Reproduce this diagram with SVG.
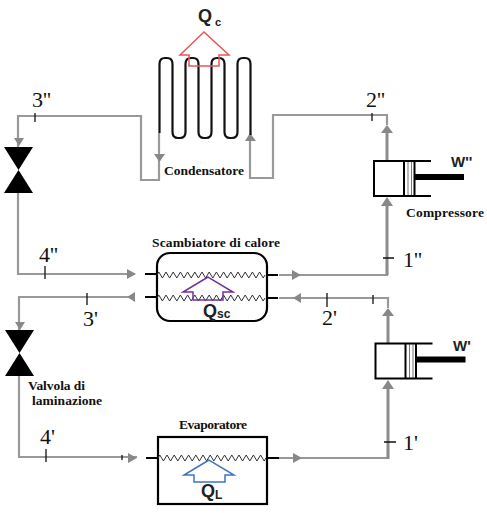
<svg xmlns="http://www.w3.org/2000/svg" width="487" height="513" viewBox="0 0 487 513">
<style>
.pipe{fill:none;stroke:#999;stroke-width:2.2}
.riser{fill:none;stroke:#8c8c8c;stroke-width:3}
.head{fill:#888;stroke:none}
.tick{fill:none;stroke:#111;stroke-width:1.3}
.blk{fill:none;stroke:#000;stroke-width:2.2}
.zig{fill:none;stroke:#333;stroke-width:1}
.lab{font-family:"Liberation Serif",serif;font-weight:bold;font-size:13.5px;fill:#111}
.num{font-family:"Liberation Serif",serif;font-size:22px;fill:#111}
.q{font-family:"Liberation Sans",sans-serif;font-weight:bold;fill:#222}
</style>
<defs>
<path id="zz" d="M0 0l1.800 -3l3.600 6l3.600 -6l3.600 6l3.600 -6l3.600 6l3.600 -6l3.600 6l3.600 -6l3.600 6l3.600 -6l3.600 6l3.600 -6l3.600 6l3.600 -6l3.600 6l3.600 -6l3.600 6l3.600 -6l3.600 6l3.600 -6l3.600 6l3.600 -6l3.600 6l3.600 -6l3.600 6l3.600 -6l3.600 6l3.600 -6l3.600 6l1.800 -3" class="zig"/>
<g id="comp">
<path d="M408 161V196M411.500 161V196" stroke="#777" stroke-width="1" fill="none"/>
<path d="M431 161H374V196H431M404 161V196M414.500 161V196" fill="none" stroke="#000" stroke-width="2"/>
<rect x="415" y="174" width="49" height="6" fill="#000"/>
</g>
<path id="valve" d="M0 0H29L0 46H29Z" fill="#000"/>
</defs>
<g id="connectors">
<path class="pipe" d="M159 133V180H141V116H18V147"/>
<path class="pipe" d="M250 135V178H273V115H387V125"/>
<path class="pipe" d="M18 193V274H135"/>
<path class="pipe" d="M279 275H387V260"/>
<path class="pipe" d="M135 297H19V330"/>
<path class="pipe" d="M279 298H388V308"/>
<path class="pipe" d="M19 376V457H137"/>
<path class="pipe" d="M279 458H388V445"/>
<path class="riser" d="M387 130V160M387 204V275M388 313V343M388 387V459"/>
<path class="head" d="M154 154H165L159.500 162Z"/>
<path class="head" d="M245 141H256L250 133Z"/>
<path class="head" d="M381 133H393L387 125Z"/>
<path class="head" d="M381 206H393L387 197Z"/>
<path class="head" d="M382 316H394L388 308Z"/>
<path class="head" d="M382 389H394L388 380Z"/>
<path class="head" d="M14 138H24L19 146Z"/>
<path class="head" d="M15 322H25L20 330Z"/>
<path class="head" d="M127 269V279L136 274Z"/>
<path class="head" d="M135 292V302L127 297Z"/>
<path class="head" d="M292 270V280L301 275Z"/>
<path class="head" d="M301 293V303L293 298Z"/>
<path class="head" d="M128 453V463L137 458Z"/>
<path class="head" d="M293 453V463L302 458Z"/>
<path class="tick" d="M35 113V122M372 113V121M383 258H394M45 266V279M87 293V305M327 293V307M373 295V304M384 442H396M46 449V462M122 455V460"/>
<path class="blk" d="M145 274H157M267 275H278M145 297H157M267 298H278M146 458H158M267 458H279"/>
</g>
<g id="condensatore">
<path d="M159.500 133V64Q159.500 58 165 58H167Q172.500 58 172.500 64V132Q172.500 138 178 138H180Q185.500 138 185.500 132V64Q185.500 58 191 58H193Q198.500 58 198.500 64V132Q198.500 138 204 138H206Q211.500 138 211.500 132V64Q211.500 58 217 58H219Q224.500 58 224.500 64V132Q224.500 138 230 138H232Q237.500 138 237.500 132V64Q237.500 58 243 58H245Q250.500 58 250.500 64V135" fill="none" stroke="#111" stroke-width="2.200"/>
<path d="M204 32L180 55H189V66H219V55H229Z" fill="none" stroke="#e8545a" stroke-width="1.500"/>
<text class="q" x="198" y="22" font-size="18">Q</text>
<text class="q" x="215" y="26" font-size="11">c</text>
<text class="lab" x="164" y="175" textLength="80">Condensatore</text>
</g>
<g id="scambiatore">
<rect x="157" y="253" width="110" height="68" rx="13" fill="#fff" stroke="#000" stroke-width="2.200"/>
<use href="#zz" x="157" y="275"/>
<use href="#zz" x="157" y="298"/>
<path d="M208 277L183 292H193V300H223V292H233Z" fill="none" stroke="#7030a0" stroke-width="1.500"/>
<text class="q" x="203" y="317" font-size="18">Q</text>
<text class="q" x="217" y="318" font-size="12">sc</text>
<text class="lab" x="152" y="247" textLength="128">Scambiatore di calore</text>
</g>
<g id="evaporatore">
<rect x="158" y="437" width="109" height="67" fill="#fff" stroke="#000" stroke-width="2.200"/>
<use href="#zz" x="158" y="458"/>
<path d="M209 460L184 475H194V482H225V475H234Z" fill="none" stroke="#4472c4" stroke-width="1.500"/>
<text class="q" x="201" y="497" font-size="18">Q</text>
<text class="q" x="215" y="499" font-size="12">L</text>
<text class="lab" x="179" y="429" textLength="68">Evaporatore</text>
</g>
<g id="compressore-alta">
<use href="#comp"/>
<text class="q" x="451" y="167" font-size="15">W''</text>
<text class="lab" x="406" y="217" textLength="78">Compressore</text>
</g>
<g id="compressore-bassa">
<use href="#comp" x="1.500" y="182.500"/>
<text class="q" x="453" y="351" font-size="15">W'</text>
</g>
<g id="valvola-alta"><use href="#valve" x="4" y="147"/></g>
<g id="valvola-bassa">
<use href="#valve" x="5" y="330"/>
<text class="lab" x="28" y="390" textLength="57">Valvola di</text>
<text class="lab" x="32" y="405" textLength="70">laminazione</text>
</g>
<g id="stati">
<text class="num" x="32" y="107">3''</text>
<text class="num" x="366" y="107">2''</text>
<text class="num" x="403" y="267">1''</text>
<text class="num" x="39" y="262">4''</text>
<text class="num" x="83" y="326">3'</text>
<text class="num" x="322" y="325">2'</text>
<text class="num" x="40" y="444">4'</text>
<text class="num" x="403" y="450">1'</text>
</g>
</svg>
